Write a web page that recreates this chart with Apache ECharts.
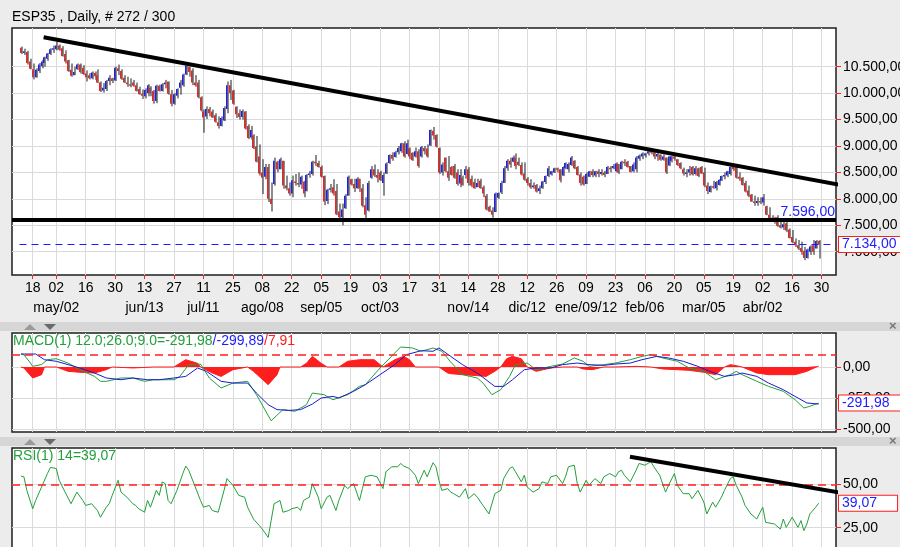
<!DOCTYPE html>
<html>
<head>
<meta charset="utf-8">
<title>ESP35 Daily</title>
<script src="https://cdn.jsdelivr.net/npm/echarts@6.0.0/dist/echarts.min.js"></script>
<style>
  html, body { margin: 0; padding: 0; background: #ececec; }
  #chart { width: 900px; height: 547px; }
</style>
</head>
<body>
<div id="chart"></div>
<script>
// ESP35 daily bars with MACD and RSI panes
const FONT = '"Liberation Sans", Arial, sans-serif';
const RED = '#ff1e1e';
const BLUE = '#1c1cff';
const GREEN = '#22a03c';

// x axis: bar number of each date tick and its day
const tickIdx = [4, 12, 22, 32, 42, 52, 62, 72, 82, 92, 102, 112, 122, 132, 142, 152, 162, 172, 182, 192, 202, 212, 222, 232, 242, 252, 262, 272];
const tickDay = ['18', '02', '16', '30', '13', '27', '11', '25', '08', '22', '05', '19', '03', '17', '31', '14', '28', '12', '26', '09', '23', '06', '20', '05', '19', '02', '16', '30'];
// first tick of each month, second label row
const monthIdx = [12, 42, 62, 82, 102, 122, 152, 172, 192, 212, 232, 252];
const monthText = ['may/02', 'jun/13', 'jul/11', 'ago/08', 'sep/05', 'oct/03', 'nov/14', 'dic/12', 'ene/09/12', 'feb/06', 'mar/05', 'abr/02'];

const priceTicks = [7000, 7500, 8000, 8500, 9000, 9500, 10000, 10500];
const macdTicks = [-500, -250, 0];
const rsiTicks = [25, 50];

// daily bars, bar 0 .. 271
const opens = [
  10860, 10760, 10780, 10600, 10450, 10300, 10420, 10510, 10570, 10650,
  10740, 10820, 10830, 10900, 10850, 10740, 10620, 10440, 10340, 10450,
  10540, 10480, 10370, 10340, 10280, 10380, 10340, 10200, 10050, 10080,
  10230, 10280, 10240, 10470, 10420, 10290, 10200, 10170, 10200, 10150,
  10080, 9990, 9940, 10000, 10100, 10040, 9850, 10140, 10040, 10170,
  10220, 9980, 9800, 9950, 10100, 10150, 10350, 10500, 10430, 10200,
  10200, 9920, 9650, 9560, 9700, 9650, 9580, 9450, 9380, 9480,
  9700, 10150, 10050, 9740, 9620, 9550, 9650, 9380, 9160, 9200,
  8990, 8800, 8500, 8420, 8600, 8000, 8280, 8700, 8560, 8720,
  8250, 8200, 8100, 8330, 8300, 8270, 8330, 8150, 8450, 8470,
  8700, 8680, 8600, 8430, 7960, 8170, 8220, 8150, 7760, 7650,
  7820, 8060, 8370, 8280, 8200, 8380, 8200, 7880, 7780, 8400,
  8560, 8450, 8500, 8300, 8480, 8680, 8830, 8790, 8880, 8900,
  9050, 8850, 8950, 8870, 8800, 8900, 8800, 8960, 8950, 9010,
  9290, 9210, 8960, 8500, 8780, 8520, 8600, 8620, 8500, 8290,
  8400, 8450, 8560, 8380, 8320, 8220, 8340, 8220, 8060, 7850,
  7780, 7750, 8020, 8120, 8300, 8580, 8720, 8700, 8780, 8700,
  8640, 8480, 8380, 8300, 8220, 8260, 8150, 8200, 8320, 8430,
  8460, 8500, 8580, 8560, 8440, 8580, 8560, 8640, 8720, 8600,
  8460, 8420, 8280, 8420, 8520, 8440, 8520, 8470, 8500, 8470,
  8590, 8580, 8520, 8660, 8560, 8700, 8700, 8620, 8520, 8560,
  8760, 8800, 8820, 8860, 8900, 8880, 8800, 8840, 8740, 8780,
  8630, 8720, 8800, 8750, 8680, 8560, 8480, 8500, 8600, 8470,
  8580, 8600, 8500, 8250, 8130, 8240, 8200, 8260, 8340, 8430,
  8440, 8470, 8600, 8600, 8420, 8400, 8300, 8160, 8080, 7950,
  7920, 7960, 7930, 7860, 7700, 7640, 7620, 7650, 7500, 7460,
  7540, 7420, 7280, 7190, 7120, 7070, 7020, 6880, 7000, 7120,
  7060, 7200
];
const highs = [
  10880, 10840, 10800, 10650, 10560, 10470, 10570, 10630, 10690, 10760,
  10850, 10900, 10970, 10920, 10890, 10810, 10630, 10560, 10500, 10560,
  10560, 10530, 10430, 10380, 10410, 10410, 10450, 10220, 10190, 10250,
  10340, 10290, 10500, 10540, 10450, 10340, 10310, 10280, 10250, 10200,
  10120, 10070, 10090, 10170, 10130, 10060, 10160, 10160, 10190, 10250,
  10220, 10060, 10000, 10090, 10250, 10370, 10530, 10500, 10470, 10340,
  10250, 9940, 9690, 9750, 9740, 9690, 9620, 9560, 9560, 9750,
  10220, 10250, 10060, 9750, 9690, 9690, 9660, 9410, 9380, 9220,
  9190, 9030, 8750, 8660, 8660, 8310, 8780, 8720, 8780, 8720,
  8440, 8310, 8440, 8470, 8500, 8440, 8340, 8470, 8530, 8720,
  8830, 8720, 8630, 8440, 8190, 8280, 8370, 8280, 7910, 7910,
  8090, 8440, 8380, 8380, 8410, 8380, 8280, 8030, 8340, 8620,
  8650, 8560, 8530, 8500, 8690, 8840, 8880, 8910, 9000, 9060,
  9090, 9120, 8970, 8880, 8970, 8940, 9000, 9000, 9030, 9310,
  9360, 9220, 8970, 8690, 8780, 8810, 8620, 8660, 8560, 8560,
  8440, 8620, 8600, 8440, 8380, 8380, 8380, 8250, 8090, 7870,
  7840, 8120, 8120, 8340, 8620, 8750, 8780, 8820, 8860, 8780,
  8690, 8690, 8410, 8370, 8310, 8280, 8250, 8340, 8440, 8620,
  8530, 8590, 8590, 8560, 8620, 8690, 8690, 8810, 8730, 8620,
  8500, 8440, 8500, 8530, 8560, 8530, 8560, 8560, 8530, 8620,
  8620, 8660, 8690, 8660, 8720, 8750, 8720, 8620, 8690, 8810,
  8840, 8880, 8870, 8940, 8940, 8910, 8870, 8840, 8840, 8780,
  8810, 8810, 8840, 8750, 8690, 8590, 8560, 8620, 8620, 8620,
  8590, 8620, 8590, 8310, 8250, 8340, 8340, 8370, 8440, 8500,
  8530, 8620, 8660, 8620, 8500, 8410, 8340, 8250, 8090, 8060,
  8030, 8030, 8090, 7870, 7840, 7690, 7660, 7690, 7590, 7590,
  7560, 7440, 7410, 7250, 7220, 7190, 7090, 7060, 7120, 7220,
  7220, 7220
];
const lows = [
  10740, 10720, 10540, 10450, 10260, 10290, 10380, 10470, 10500, 10610,
  10720, 10760, 10810, 10800, 10690, 10560, 10400, 10310, 10340, 10440,
  10370, 10340, 10220, 10260, 10260, 10250, 10190, 10020, 10010, 10040,
  10150, 10190, 10230, 10340, 10250, 10190, 10120, 10110, 10120, 10030,
  9970, 9890, 9900, 9940, 9940, 9800, 9810, 10030, 10030, 10090,
  9970, 9750, 9780, 9900, 9970, 10120, 10340, 10310, 10150, 10120,
  9900, 9650, 9250, 9510, 9560, 9530, 9440, 9330, 9370, 9470,
  9620, 9870, 9780, 9530, 9500, 9500, 9310, 9130, 9120, 8940,
  8690, 8440, 8090, 8370, 7940, 7760, 8250, 8500, 8560, 8190,
  8160, 8060, 8030, 8250, 8220, 8190, 8030, 8140, 8400, 8440,
  8620, 8590, 8400, 7880, 7900, 8120, 8060, 7690, 7630, 7500,
  7810, 8060, 8250, 8130, 8190, 8130, 7840, 7620, 7760, 8380,
  8410, 8310, 8340, 8060, 8470, 8660, 8720, 8780, 8840, 8870,
  8780, 8840, 8750, 8720, 8780, 8590, 8780, 8840, 8780, 9000,
  9120, 8970, 8470, 8440, 8500, 8340, 8440, 8380, 8250, 8220,
  8250, 8380, 8250, 8220, 8190, 8220, 8190, 8030, 7780, 7750,
  7640, 7750, 8000, 8090, 8300, 8530, 8590, 8690, 8560, 8620,
  8440, 8340, 8250, 8190, 8190, 8120, 8090, 8190, 8280, 8410,
  8440, 8490, 8500, 8310, 8430, 8560, 8500, 8620, 8560, 8440,
  8250, 8250, 8280, 8410, 8410, 8410, 8410, 8440, 8410, 8470,
  8500, 8560, 8500, 8470, 8560, 8620, 8590, 8500, 8500, 8500,
  8720, 8750, 8780, 8820, 8840, 8750, 8720, 8720, 8720, 8470,
  8620, 8690, 8720, 8620, 8560, 8440, 8410, 8440, 8440, 8440,
  8410, 8470, 8220, 8090, 8120, 8190, 8160, 8250, 8340, 8370,
  8410, 8440, 8530, 8380, 8340, 8250, 8120, 8030, 7940, 7870,
  7870, 7900, 7870, 7690, 7560, 7590, 7530, 7470, 7440, 7410,
  7370, 7250, 7160, 7090, 7030, 6940, 6840, 6870, 6940, 6940,
  7060, 6870
];
const closes = [
  10760, 10790, 10570, 10460, 10300, 10440, 10540, 10600, 10680, 10750,
  10830, 10850, 10900, 10820, 10700, 10600, 10420, 10330, 10400, 10540,
  10400, 10360, 10300, 10280, 10390, 10320, 10200, 10040, 10100, 10230,
  10290, 10230, 10480, 10420, 10270, 10200, 10170, 10150, 10140, 10040,
  9980, 9950, 10060, 10150, 10000, 9850, 10140, 10040, 10170, 10200,
  9990, 9800, 9980, 10080, 10200, 10350, 10520, 10400, 10200, 10150,
  9920, 9670, 9540, 9700, 9620, 9540, 9460, 9380, 9530, 9720,
  10150, 10000, 9800, 9600, 9550, 9660, 9330, 9150, 9300, 8960,
  8700, 8480, 8400, 8600, 8000, 7900, 8720, 8560, 8750, 8250,
  8200, 8100, 8350, 8300, 8280, 8420, 8100, 8450, 8480, 8700,
  8680, 8600, 8420, 7950, 8170, 8200, 8100, 7710, 7650, 7800,
  8060, 8420, 8270, 8200, 8380, 8200, 7870, 7700, 8300, 8560,
  8440, 8400, 8350, 8450, 8670, 8830, 8760, 8880, 8960, 9050,
  8800, 9050, 8800, 8730, 8900, 8620, 8980, 8900, 8800, 9300,
  9200, 8990, 8500, 8650, 8520, 8400, 8450, 8400, 8280, 8450,
  8260, 8560, 8300, 8250, 8200, 8300, 8200, 8100, 7800, 7760,
  7700, 8100, 8110, 8300, 8580, 8720, 8650, 8780, 8620, 8640,
  8460, 8360, 8300, 8220, 8250, 8140, 8200, 8330, 8430, 8580,
  8520, 8580, 8560, 8350, 8600, 8680, 8660, 8780, 8580, 8450,
  8300, 8270, 8470, 8520, 8450, 8520, 8470, 8510, 8450, 8600,
  8560, 8620, 8670, 8500, 8700, 8680, 8600, 8510, 8650, 8780,
  8820, 8860, 8860, 8900, 8880, 8800, 8850, 8740, 8800, 8500,
  8800, 8800, 8760, 8640, 8580, 8480, 8500, 8560, 8460, 8580,
  8430, 8480, 8250, 8150, 8240, 8220, 8320, 8360, 8430, 8450,
  8520, 8600, 8560, 8400, 8380, 8260, 8140, 8060, 7950, 7920,
  7960, 7930, 8030, 7700, 7600, 7620, 7560, 7490, 7460, 7520,
  7400, 7260, 7180, 7120, 7060, 7000, 6880, 7040, 7100, 7000,
  7200, 7134
];

// drawn lines on the price pane: [bar, price]
const resistance = [[7.7, 11056], [281.6, 8230]];
const support = 7596;
const lastClose = 7134;

// MACD pane, read at these bars
const macdBar = [0, 1, 3, 4, 7, 9, 12, 16, 20, 25, 27, 29, 34, 38, 42, 45, 50, 52, 54, 57, 61, 64, 68, 72, 77, 80, 85, 89, 93, 97, 99, 103, 106, 111, 115, 117, 122, 129, 133, 136, 140, 143, 146, 150, 155, 157, 160, 163, 166, 168, 172, 175, 180, 184, 188, 191, 193, 198, 202, 207, 211, 214, 218, 223, 227, 232, 236, 241, 243, 245, 250, 254, 259, 263, 266, 268, 271];
const macdVal = [105, 98, 40, 5, 20, 59, 67, 32, -22, -76, -116, -116, -89, -89, -116, -103, -103, -103, -76, 19, 24, -89, -170, -130, -116, -224, -435, -345, -359, -305, -211, -224, -265, -224, -157, -143, -8, 162, 154, 127, 154, 127, 40, -62, -89, -130, -224, -184, -76, 19, 32, -22, 5, 24, 73, 46, 5, 19, 32, 59, 86, 100, 73, 46, -8, -35, -103, -62, -35, -62, -116, -157, -197, -265, -332, -318, -291.98];
const signalBar = [0, 5, 8, 12, 16, 20, 25, 29, 34, 38, 43, 47, 52, 56, 60, 63, 68, 72, 77, 80, 84, 87, 91, 95, 99, 102, 106, 108, 113, 117, 122, 127, 131, 136, 140, 142, 146, 150, 155, 158, 161, 164, 167, 171, 175, 180, 184, 189, 193, 198, 202, 207, 211, 216, 220, 225, 230, 234, 239, 243, 245, 250, 254, 259, 263, 267, 271];
const signalVal = [105, 105, 59, 46, 19, -8, -49, -89, -103, -89, -103, -103, -89, -76, -8, -35, -116, -130, -130, -211, -305, -345, -351, -345, -300, -251, -238, -251, -197, -143, -62, 19, 100, 132, 127, 154, 86, 19, -49, -103, -157, -157, -103, -22, -8, -8, 19, 32, 19, 13, 24, 32, 59, 86, 73, 46, 5, -35, -76, -62, -49, -76, -130, -184, -238, -291, -299.89];
const histBar = [0, 1, 4, 7, 8, 12, 16, 20, 25, 29, 31, 38, 45, 52, 54, 56, 60, 61, 65, 68, 72, 77, 79, 84, 87, 88, 95, 97, 99, 102, 104, 108, 111, 115, 120, 123, 127, 130, 132, 134, 142, 145, 146, 150, 155, 158, 161, 163, 165, 167, 170, 172, 175, 180, 184, 189, 191, 194, 198, 202, 209, 214, 218, 223, 227, 232, 236, 239, 241, 243, 245, 250, 254, 259, 263, 267, 271];
const histVal = [0, -8, -89, -62, 0, 0, -35, -43, -49, -22, 0, -8, 0, 0, 30, 59, 30, 0, -49, -76, -22, 0, -35, -143, -62, 0, 0, 30, 86, 30, 0, 0, 46, 59, 59, 0, 59, 86, 59, 0, 0, -49, -54, -62, -70, -76, -35, 0, 67, 86, 67, 0, -35, -8, 0, 0, -16, -22, 0, 0, 5, 0, -16, -22, -27, -43, -62, 0, 19, 11, 0, -49, -62, -62, -62, -35, 7.91];
const macdLevel = 100;
const lastMacd = -291.98;

// RSI pane, read at these bars
const rsiBar = [0, 1, 2, 4, 5, 7, 9, 10, 12, 13, 15, 17, 19, 21, 22, 24, 26, 27, 29, 30, 31, 33, 34, 36, 38, 39, 40, 42, 43, 44, 46, 47, 48, 49, 50, 51, 53, 55, 56, 57, 59, 61, 62, 64, 65, 67, 69, 70, 72, 74, 76, 77, 79, 81, 82, 84, 85, 86, 88, 89, 91, 92, 94, 95, 96, 98, 99, 101, 102, 104, 105, 107, 108, 110, 111, 113, 115, 116, 117, 119, 121, 123, 124, 126, 128, 129, 130, 132, 134, 135, 137, 138, 140, 141, 142, 143, 145,
  146, 147, 149, 151, 152, 154, 155, 157, 159, 161, 163, 164, 166, 167, 168, 170, 171, 172, 174, 176, 177, 179, 180, 182, 184, 185, 186, 188, 189, 190, 192, 193, 195, 197, 198, 200, 202, 203, 204, 205, 207, 209, 210, 212, 214, 215, 217, 219, 220, 222, 223, 225, 227, 228, 230, 232, 233, 235, 236, 238, 239, 241, 242, 243, 245, 246, 248, 250, 252, 253, 256, 258, 259, 260, 262, 264, 265, 266, 267, 268, 270, 271];
const rsiVal = [54.7, 54.3, 46.5, 35.9, 40.7, 48.4, 56.2, 59.7, 59.1, 52.3, 45.5, 38.8, 45.5, 40.7, 37.8, 38.8, 34.9, 31.0, 36.8, 38.8, 43.6, 52.3, 45.5, 42.6, 38.8, 37.8, 35.9, 33.9, 40.7, 36.8, 46.5, 43.6, 51.4, 50.4, 40.7, 38.8, 46.5, 56.2, 60.5, 58.1, 49.4, 40.7, 36.8, 37.8, 34.9, 33.9, 46.5, 53.3, 49.4, 43.6, 42.6, 36.8, 30.0, 26.2, 24.2, 19.4, 29.1, 38.8, 40.7, 33.9, 34.9, 35.9, 36.8, 34.9, 40.7, 42.6, 50.4, 42.6, 35.9, 42.6, 43.6, 34.9, 40.7, 49.4, 47.5, 50.4, 40.7, 47.5, 54.3, 55.2, 54.3, 47.5, 57.2, 60.1, 60.1, 62.0, 60.5, 59.1, 55.2, 50.4, 58.1, 54.3, 62.4, 60.1, 52.3, 46.5, 47.5,
  45.5, 44.6, 42.6, 47.5, 41.7, 44.6, 42.6, 37.8, 32.9, 44.6, 46.5, 53.3, 59.1, 60.1, 57.2, 51.4, 55.2, 48.4, 45.5, 47.5, 51.4, 50.4, 54.3, 55.2, 50.4, 54.3, 60.1, 61.0, 50.4, 45.5, 52.3, 49.4, 53.3, 50.4, 54.3, 56.2, 54.3, 57.2, 58.1, 55.2, 51.4, 58.1, 62.0, 61.0, 63.0, 60.1, 55.2, 45.5, 49.4, 56.2, 49.4, 44.6, 44.6, 41.7, 46.5, 39.7, 32.9, 39.7, 36.8, 42.6, 46.5, 53.3, 54.3, 49.4, 42.6, 37.8, 32.9, 30.0, 36.8, 28.1, 27.1, 24.2, 30.0, 25.2, 31.0, 25.2, 29.1, 23.3, 27.1, 32.9, 36.8, 39.07];
const rsiLevel = 50;
const rsiTrend = [[206.9, 65.9], [279.3, 44.9]];

const X_MIN = -3.04;
const X_MAX = 276.9;

// 7134.5 -> "7.134,50"
function fmt(v) {
  const parts = Math.abs(v).toFixed(2).split('.');
  const whole = parts[0].replace(/\B(?=(\d{3})+(?!\d))/g, '.');
  return (v < 0 ? '-' : '') + whole + ',' + parts[1];
}

function pairs(xs, ys) {
  return xs.map((x, i) => [x, ys[i]]);
}

function labelFrom(idx, texts) {
  return function (v) {
    const k = idx.indexOf(Math.round(v));
    return k < 0 ? '' : texts[k];
  };
}

function xAxisFor(g, main) {
  return {
    type: 'value', gridIndex: g, min: X_MIN, max: X_MAX,
    axisLine: { show: false, onZero: false },
    axisTick: { show: main, customValues: tickIdx, length: 4, lineStyle: { color: RED } },
    axisLabel: {
      show: main, customValues: tickIdx, margin: 6, hideOverlap: false,
      formatter: labelFrom(tickIdx, tickDay),
      fontSize: 14, color: '#000', fontFamily: FONT
    },
    splitLine: { show: true, lineStyle: { color: '#dadada', width: 1 } }
  };
}

// second label row under the price pane: month names
const monthAxis = {
  type: 'value', gridIndex: 0, position: 'bottom', offset: 0, min: X_MIN, max: X_MAX,
  axisLine: { show: false, onZero: false },
  axisTick: { show: false, customValues: monthIdx },
  axisLabel: {
    customValues: monthIdx, margin: 26, hideOverlap: false,
    formatter: labelFrom(monthIdx, monthText),
    fontSize: 14, color: '#000', fontFamily: FONT
  },
  splitLine: { show: false }
};

function yAxisFor(g, min, max, ticks) {
  return {
    type: 'value', gridIndex: g, position: 'right', min: min, max: max,
    axisLine: { show: false, onZero: false },
    axisTick: { show: true, customValues: ticks, length: 5, lineStyle: { color: RED } },
    axisLabel: { customValues: ticks, formatter: fmt, margin: 7, fontSize: 14, color: '#000', fontFamily: FONT, hideOverlap: false },
    splitLine: { show: true, lineStyle: { color: '#dadada', width: 1 } }
  };
}

function boxLabel(text) {
  return {
    show: true, position: 'end', distance: 3, formatter: text,
    color: BLUE, fontSize: 14, fontFamily: FONT,
    backgroundColor: '#fff', borderColor: RED, borderWidth: 1,
    padding: [1, 20, 0, 3]
  };
}

// a level with no visible line, only its value box at the right
function valueBox(v) {
  return { yAxis: v, lineStyle: { color: 'rgba(0,0,0,0)', width: 0 }, label: boxLabel(fmt(v)) };
}

function renderBar(params, api) {
  const i = api.value(0);
  const pO = api.coord([i, api.value(1)]);
  const pH = api.coord([i, api.value(2)]);
  const pL = api.coord([i, api.value(3)]);
  const pC = api.coord([i, api.value(4)]);
  const x = Math.round(pO[0]);
  const top = Math.min(pO[1], pC[1]);
  const h = Math.max(1.5, Math.abs(pO[1] - pC[1]));
  const up = api.value(4) >= api.value(1);
  return {
    type: 'group',
    children: [
      { type: 'rect', shape: { x: x - 1, y: top, width: 1.5, height: h }, style: { fill: up ? BLUE : RED } },
      { type: 'line', shape: { x1: x + 1, y1: pH[1], x2: x + 1, y2: pL[1] }, style: { stroke: '#1a1a1a', lineWidth: 1 } }
    ]
  };
}

// fixed panes; labels may run past the right edge as in the original
const gridStyle = {
  show: true, backgroundColor: '#fff', borderColor: '#1e1e1e', borderWidth: 1.5,
  containLabel: false, outerBoundsMode: 'none'
};

const chart = echarts.init(document.getElementById('chart'), null, { renderer: 'canvas' });
chart.setOption({
  animation: false,
  backgroundColor: '#ececec',
  textStyle: { fontFamily: FONT },
  grid: [
    Object.assign({ left: 12, top: 28, width: 824, height: 247 }, gridStyle),
    Object.assign({ left: 12, top: 333, width: 824, height: 99 }, gridStyle),
    Object.assign({ left: 12, top: 448, width: 824, height: 100 }, gridStyle)
  ],
  xAxis: [xAxisFor(0, true), xAxisFor(1, false), xAxisFor(2, false), monthAxis],
  yAxis: [
    yAxisFor(0, 6559, 11232, priceTicks),
    yAxisFor(1, -526, 275, macdTicks),
    yAxisFor(2, 13.3, 70.9, rsiTicks)
  ],
  graphic: [
    { type: 'text', left: 12, top: 10, style: { text: 'ESP35 , Daily, # 272 / 300', font: '14px ' + FONT, fill: '#000' } },
    { type: 'rect', shape: { x: 0, y: 322, width: 900, height: 9 }, style: { fill: '#d6d6d6' } },
    { type: 'rect', shape: { x: 0, y: 437, width: 900, height: 9 }, style: { fill: '#d6d6d6' } },
    { type: 'polygon', shape: { points: [[24, 330], [30, 324], [36, 330]] }, style: { fill: '#9a9a9a' } },
    { type: 'polygon', shape: { points: [[44, 324], [56, 324], [50, 330]] }, style: { fill: '#6a6a6a' } },
    { type: 'polygon', shape: { points: [[24, 445], [30, 439], [36, 445]] }, style: { fill: '#9a9a9a' } },
    { type: 'polygon', shape: { points: [[44, 439], [56, 439], [50, 445]] }, style: { fill: '#6a6a6a' } },
    { type: 'text', left: 889, top: 320, style: { text: '×', font: 'bold 13px ' + FONT, fill: '#777' } },
    { type: 'text', left: 889, top: 435, style: { text: '×', font: 'bold 13px ' + FONT, fill: '#777' } },
    {
      type: 'text', left: 13, top: 334, z: 50,
      style: {
        text: '{g|MACD(1) 12.0;26.0;9.0=' + fmt(lastMacd) + '}{b|/' + fmt(signalVal[signalVal.length - 1]) + '}{r|/' + fmt(histVal[histVal.length - 1]) + '}',
        rich: {
          g: { fill: GREEN, font: '14px ' + FONT },
          b: { fill: BLUE, font: '14px ' + FONT },
          r: { fill: RED, font: '14px ' + FONT }
        }
      }
    },
    { type: 'text', left: 13, top: 449, z: 50, style: { text: 'RSI(1) 14=' + fmt(rsiVal[rsiVal.length - 1]), font: '14px ' + FONT, fill: GREEN } }
  ],
  series: [
    {
      type: 'custom', name: 'ESP35', xAxisIndex: 0, yAxisIndex: 0,
      data: opens.map((o, i) => [i, o, highs[i], lows[i], closes[i]]),
      encode: { x: 0, y: [1, 2, 3, 4] },
      renderItem: renderBar,
      clip: true, z: 3
    },
    {
      type: 'line', name: 'trend', xAxisIndex: 0, yAxisIndex: 0,
      data: resistance, symbol: 'none', clip: false, z: 5,
      lineStyle: { color: '#000', width: 4 },
      markLine: {
        symbol: 'none', silent: true,
        data: [
          {
            yAxis: support,
            lineStyle: { color: '#000', width: 4, type: 'solid' },
            label: { show: true, position: 'insideEndTop', distance: [1, 1], formatter: fmt(support), color: BLUE, fontSize: 14, fontFamily: FONT }
          },
          [
            {
              coord: [-0.5, lastClose],
              lineStyle: { color: BLUE, width: 1, type: [7, 5] },
              label: boxLabel(fmt(lastClose))
            },
            { coord: [X_MAX, lastClose] }
          ]
        ]
      }
    },
    {
      type: 'line', name: 'hist', xAxisIndex: 1, yAxisIndex: 1,
      data: pairs(histBar, histVal), symbol: 'none', z: 2,
      lineStyle: { color: RED, width: 1 },
      areaStyle: { color: RED, opacity: 1 },
      markLine: {
        symbol: 'none', silent: true,
        data: [{ yAxis: macdLevel, lineStyle: { color: RED, width: 1.5, type: [8, 5] }, label: { show: false } }]
      }
    },
    {
      type: 'line', name: 'macd', xAxisIndex: 1, yAxisIndex: 1,
      data: pairs(macdBar, macdVal), symbol: 'none', z: 4,
      lineStyle: { color: GREEN, width: 1 },
      markLine: { symbol: 'none', silent: true, data: [valueBox(lastMacd)] }
    },
    {
      type: 'line', name: 'signal', xAxisIndex: 1, yAxisIndex: 1,
      data: pairs(signalBar, signalVal), symbol: 'none', z: 4,
      lineStyle: { color: '#1a1ad0', width: 1 }
    },
    {
      type: 'line', name: 'rsi', xAxisIndex: 2, yAxisIndex: 2,
      data: pairs(rsiBar, rsiVal), symbol: 'none', z: 4,
      lineStyle: { color: GREEN, width: 1 },
      markLine: {
        symbol: 'none', silent: true,
        data: [
          { yAxis: rsiLevel, lineStyle: { color: RED, width: 1.5, type: [8, 5] }, label: { show: false } },
          valueBox(rsiVal[rsiVal.length - 1])
        ]
      }
    },
    {
      type: 'line', name: 'rsiTrend', xAxisIndex: 2, yAxisIndex: 2,
      data: rsiTrend, symbol: 'none', clip: false, z: 5,
      lineStyle: { color: '#000', width: 4 }
    }
  ]
});
</script>
</body>
</html>
